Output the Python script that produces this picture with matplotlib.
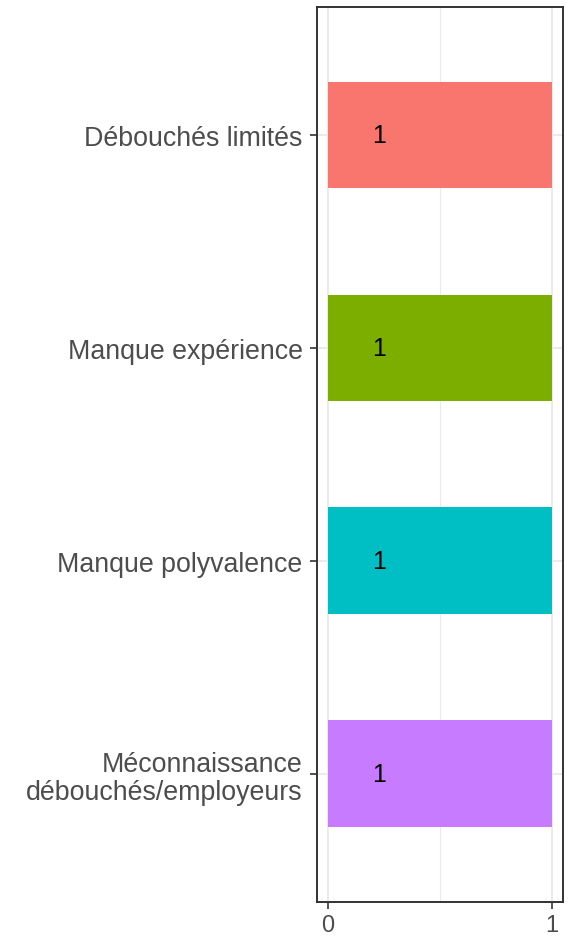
import matplotlib
matplotlib.use("Agg")
import matplotlib.pyplot as plt
from matplotlib.ticker import FixedLocator

categories = ["Débouchés limités", "Manque expérience", "Manque polyvalence",
              "Méconnaissance\ndébouchés/employeurs"]
values = [1, 1, 1, 1]
label_x = [0.23, 0.23, 0.23, 0.23]
colors = ["#F8766D", "#7CAE00", "#00BFC4", "#C77CFF"]
xticks = [0, 1]

plt.rcParams['font.family'] = ['Liberation Sans', 'DejaVu Sans']

W, H = 571, 937
fig = plt.figure(figsize=(W / 100, H / 100), dpi=100)
left, right, top, bottom = 316.5, 563, 8, 902.5
ax = fig.add_axes([left / W, 1 - bottom / H, (right - left) / W, (bottom - top) / H])

pos = list(range(len(categories)))
ax.barh(pos, values, height=0.5, color=colors, zorder=2)
for p, lx in zip(pos, label_x):
    ax.text(lx, p, "1", ha="center", va="center", fontsize=18, color="black", zorder=3)

ax.set_xlim(-0.05, 1.05)
ax.set_ylim(len(categories) - 0.4, -0.6)
ax.set_yticks(pos)
ax.set_yticklabels(categories, fontsize=19.3, color="#4D4D4D", ha="right", linespacing=1.13)
ax.set_xticks(xticks)
ax.set_xticklabels([str(t) for t in xticks], fontsize=17, color="#4D4D4D")
ax.xaxis.set_minor_locator(FixedLocator([0.5]))
ax.grid(True, which="major", color="#EBEBEB", linewidth=1.4, zorder=0)
ax.grid(True, which="minor", axis="x", color="#EBEBEB", linewidth=0.8, zorder=0)
ax.tick_params(axis="y", which="major", length=5, width=1.2, color="#333333", pad=5)
ax.tick_params(axis="x", which="major", length=5, width=1.2, color="#333333", pad=4)
ax.tick_params(axis="x", which="minor", length=0)
for s in ax.spines.values():
    s.set_color("#333333")
    s.set_linewidth(1.4)
ax.set_axisbelow(True)

fig.savefig("out.png", dpi=100)
